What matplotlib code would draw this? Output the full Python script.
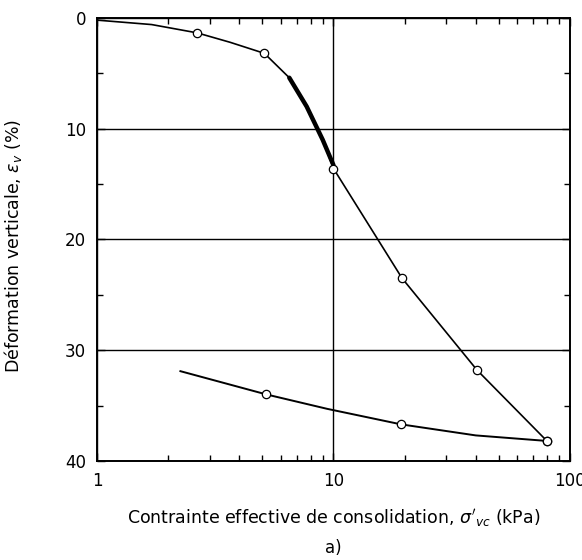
import numpy as np
import matplotlib.pyplot as plt
from matplotlib.ticker import FixedLocator, NullFormatter

# chargement (loading branch)
load_s = [1.0, 1.7, 2.65, 3.65, 5.1, 6.5, 7.7, 9.0, 10.0, 19.5, 40.5, 80.0]
load_e = [0.2, 0.6, 1.35, 2.2, 3.2, 5.4, 8.0, 11.0, 13.6, 23.5, 31.8, 38.2]
load_mk_s = [2.65, 5.1, 10.0, 19.5, 40.5, 80.0]
load_mk_e = [1.35, 3.2, 13.6, 23.5, 31.8, 38.2]

# zone dense (trait épais sur le scan)
dense_s = [6.5, 7.7, 9.0, 10.0]
dense_e = [5.4, 8.0, 11.0, 13.3]

# déchargement (unloading branch)
unload_s = [2.25, 5.2, 9.4, 19.3, 40.0, 80.0]
unload_e = [31.9, 34.0, 35.3, 36.7, 37.7, 38.2]
unload_mk_s = [5.2, 19.3, 80.0]
unload_mk_e = [34.0, 36.7, 38.2]

yticks = [0, 10, 20, 30, 40]
xticks = [1, 10, 100]
xticklabels = ["1", "10", "100"]

plt.rcParams['font.family'] = ['DejaVu Sans']

fig = plt.figure(figsize=(5.82, 5.60), dpi=100)
ax = fig.add_axes([0.167, 0.177, 0.812, 0.791])

ax.plot(load_s, load_e, color='black', lw=1.2)
ax.plot(dense_s, dense_e, color='black', lw=3.2, solid_capstyle='round')
ax.plot(unload_s, unload_e, color='black', lw=1.4)
ax.plot(load_mk_s, load_mk_e, 'o', ms=6, mfc='white', mec='black', mew=0.9)
ax.plot(unload_mk_s, unload_mk_e, 'o', ms=6, mfc='white', mec='black', mew=0.9)

ax.set_xscale('log')
ax.set_xlim(1, 100)
ax.set_ylim(40, 0)

ax.set_xticks(xticks)
ax.set_xticklabels(xticklabels)
ax.xaxis.set_minor_locator(FixedLocator([2, 3, 4, 5, 6, 7, 8, 9, 20, 30, 40, 50, 60, 70, 80, 90]))
ax.xaxis.set_minor_formatter(NullFormatter())
ax.set_yticks(yticks)
ax.yaxis.set_minor_locator(FixedLocator([5, 15, 25, 35]))

ax.tick_params(which='both', direction='in', top=True, right=True, labelsize=12)
ax.tick_params(which='major', length=6, width=1, pad=8)
ax.tick_params(which='minor', length=4, width=1)

for s in ax.spines.values():
    s.set_linewidth(1.4)

ax.grid(True, which='major', color='black', lw=1.0)

ax.set_ylabel(r"Déformation verticale, $\varepsilon_v$ (%)", fontsize=12.5)
ax.yaxis.set_label_coords(-0.155, 0.486)
ax.set_xlabel(r"Contrainte effective de consolidation, $\sigma'_{vc}$ (kPa)", fontsize=12.5)
ax.xaxis.set_label_coords(0.5, -0.105)
fig.text(0.572, 0.021, "a)", ha='center', va='center', fontsize=12)

fig.savefig("out.png", dpi=100)
